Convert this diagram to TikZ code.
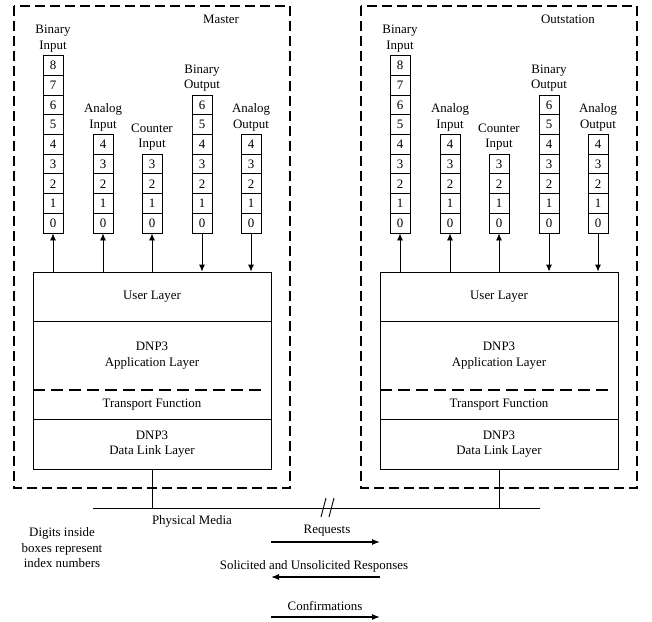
\documentclass[tikz,border=0pt]{standalone}
\usepackage{fontspec}
\setmainfont{Liberation Serif}
\usetikzlibrary{arrows.meta}

\begin{document}
\begin{tikzpicture}[x=1pt, y=-1pt,
    every node/.style={font=\fontsize{12.9}{15.5}\selectfont, align=center, inner sep=1pt},
    cell/.style={draw, line width=0.9pt, minimum width=20pt, minimum height=19.7pt, inner sep=0pt},
    layer/.style={draw, line width=0.9pt, minimum width=238pt, inner sep=0pt},
    station/.style={line width=1.6pt, dash pattern=on 10pt off 5pt},
    sep/.style={line width=1.6pt, dash pattern=on 12pt off 6pt},
    link/.style={line width=0.9pt, -{Latex[length=7pt,width=6pt]}},
    flow/.style={line width=1.2pt, -{Latex[length=8pt,width=6pt]}}]
    \useasboundingbox (0,0) rectangle (652,621);
    \foreach \pre/\dx/\title in {m/0/Master, o/347/Outstation} {
    \begin{scope}[shift={(\dx,0)}, name prefix=\pre-]
        % station frame
        \draw[station] (14,6) rectangle (290,488);
        \node (title) at (221,19) {\title};
        % layers
        \node[layer, minimum height=49pt] (ul) at (152,296.5) {User Layer};
        \node[layer, minimum height=98pt] (al) at (152,370) {};
        \node[layer, minimum height=50pt] (dl) at (152,444) {DNP3\\Data Link Layer};
        \node (an) at (152,355.5) {DNP3\\Application Layer};
        \node (tf) at (152,405) {Transport Function};
        \draw[sep] (33,390) -- (262,390);
        % point lists
        \foreach \col/\x/\n/\lbl in {bi/53/8/{Binary\\Input}, ai/103/4/{Analog\\Input},
                ci/152/3/{Counter\\Input}, bo/202/6/{Binary\\Output}, ao/251/4/{Analog\\Output}} {
            \foreach \i in {0,...,\n}
                \node[cell] (\col\i) at (\x,223.15-19.7*\i) {\i};
            \node[anchor=south, inner sep=3pt] (\col lbl) at (\col\n.north) {\lbl};
        }
        \foreach \col in {bi,ai,ci}
            \draw[link] (ul.north -| \col0.south) -- (\col0.south);
        \foreach \col in {bo,ao}
            \draw[link] (\col0.south) -- (ul.north -| \col0.south);
        % drop to the media
        \draw[line width=0.9pt] (dl.south) -- ++(0,39);
    \end{scope}
    }
    % physical media
    \coordinate (busL) at (93,508);
    \coordinate (busR) at (540,508);
    \draw[line width=0.9pt] (busL) -- (busR);
    \draw[line width=0.9pt] (321,517) -- (326,498) (329,517) -- (334,498);
    \node (media) at (192,521) {Physical Media};
    \node (note) at (62,548) {Digits inside\\boxes represent\\index numbers};
    % messages
    \node (req) at (327,531) {Requests};
    \coordinate (reqA) at (271,542);
    \coordinate (reqB) at (380,542);
    \draw[flow] (reqA) -- (reqB);
    \node (rsp) at (314,566) {Solicited and Unsolicited Responses};
    \coordinate (rspA) at (380,577);
    \coordinate (rspB) at (271,577);
    \draw[flow] (rspA) -- (rspB);
    \node (cnf) at (325,606) {Confirmations};
    \coordinate (cnfA) at (271,617);
    \coordinate (cnfB) at (380,617);
    \draw[flow] (cnfA) -- (cnfB);
\end{tikzpicture}
\end{document}
